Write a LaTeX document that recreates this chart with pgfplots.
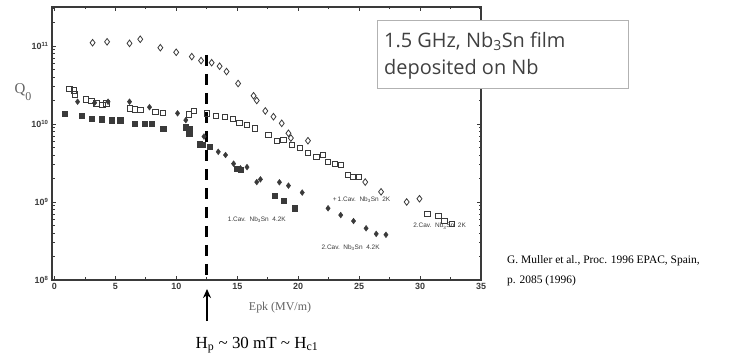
\documentclass[border=0pt]{standalone}
\usepackage{pgfplots}
\pgfplotsset{compat=1.18}
\usetikzlibrary{arrows.meta}
\usepackage{fontspec}
\setmainfont{Liberation Serif}
\newfontfamily\boxfont{Open Sans}
\newfontfamily\sansb{Liberation Sans}
\definecolor{scan}{HTML}{3A3A3A}

\begin{document}
\begin{tikzpicture}[x=1bp,y=1bp]
\useasboundingbox (0,0) rectangle (734,362);
\begin{axis}[
  scale only axis, width=429bp, height=273bp,
  at={(52bp,82bp)}, anchor=south west,
  ymode=log, xmin=-0.2, xmax=35, ymin=1e8, ymax=3.16e11,
  xtick={0,5,...,35}, minor x tick num=1,
  ytick={1e8,1e9,1e10,1e11},
  minor ytick={2e8,3e8,4e8,5e8,6e8,7e8,8e8,9e8,2e9,3e9,4e9,5e9,6e9,7e9,8e9,9e9,2e10,3e10,4e10,5e10,6e10,7e10,8e10,9e10,2e11,3e11},
  yticklabels={10\textsuperscript{8},10\textsuperscript{9},10\textsuperscript{10},10\textsuperscript{11}},
  /pgf/number format/assume math mode=true,
  tick align=inside,
  axis line style={scan, line width=1.1bp},
  major tick length=4bp, minor tick length=2.5bp,
  every tick/.style={scan, line width=0.8bp},
  tick label style={font=\sansb\bfseries\fontsize{9}{10}\selectfont, text=scan},
  clip=false,
]
% 1.Cav Nb3Sn 2K (open diamonds)
\addplot[only marks, mark=diamond, mark size=3.3bp, scan, line width=0.8bp] coordinates {
(3.13,1.1e11) (4.32,1.13e11) (6.16,1.08e11) (7.04,1.22e11) (8.69,9.5e10)
(9.99,8.3e10) (11.27,7.3e10) (12.03,6.5e10) (12.9,6.1e10) (13.55,5.5e10)
(14.12,4.7e10) (15.07,3.3e10) (16.34,2.3e10) (16.6,2.0e10) (17.3,1.47e10)
(17.97,1.24e10) (18.65,1.02e10) (19.2,7.6e9) (19.4,6.6e9) (20.8,6.1e9)
(25.5,1.8e9) (26.8,1.35e9) (28.9,1.0e9) (29.95,1.1e9)
};
% 2.Cav Nb3Sn 2K (open squares)
\addplot[only marks, mark=square, mark size=2.6bp, scan, line width=0.8bp] coordinates {
(1.22,2.8e10) (1.6,2.7e10) (1.69,2.4e10) (2.58,2.07e10) (3.04,1.97e10)
(3.45,1.84e10) (3.94,1.75e10) (4.27,1.84e10) (6.16,1.58e10) (6.57,1.54e10)
(7.06,1.51e10) (8.28,1.44e10) (8.88,1.4e10) (11.0,1.33e10) (11.46,1.47e10)
(12.54,1.37e10) (13.27,1.28e10) (13.98,1.22e10) (14.63,1.15e10) (15.18,1.04e10)
(15.8,9.7e9) (16.48,8.8e9) (17.56,7.2e9) (18.24,6.1e9) (18.79,6.2e9)
(19.46,5.4e9) (20.15,4.9e9) (20.82,4.3e9) (21.5,3.8e9) (22.05,4.0e9)
(22.45,3.3e9) (23.0,3.1e9) (23.53,3.0e9) (24.08,2.2e9) (24.5,2.1e9)
(25.0,2.1e9) (30.6,7.1e8) (31.5,6.6e8) (32.0,5.7e8) (32.6,5.2e8)
};
% 1.Cav Nb3Sn 4.2K (filled squares)
\addplot[only marks, mark=square*, mark size=2.6bp, scan] coordinates {
(0.87,1.37e10) (2.23,1.27e10) (3.04,1.18e10) (3.86,1.15e10) (4.67,1.12e10)
(5.4,1.12e10) (6.57,1.02e10) (7.39,1.0e10) (8.01,1.0e10) (8.93,8.8e9)
(10.78,9.1e9) (11.05,8.8e9) (11.05,7.6e9) (11.95,5.5e9) (12.74,5.1e9)
(12.14,5.4e9) (14.98,2.7e9) (15.3,2.6e9) (18.06,1.2e9) (18.79,1.03e9)
(19.74,8.3e8)
};
% 2.Cav Nb3Sn 4.2K (filled diamonds)
\addplot[only marks, mark=diamond*, mark size=2.9bp, scan] coordinates {
(1.9,1.93e10) (3.3,1.87e10) (4.4,1.93e10) (6.16,1.93e10) (7.8,1.64e10)
(10.1,1.37e10) (10.78,1.12e10) (12.27,6.9e9) (13.44,4.4e9) (14.04,4.0e9)
(14.7,3.1e9) (15.26,2.7e9) (15.8,2.8e9) (16.6,1.8e9) (16.9,1.95e9)
(18.46,1.79e9) (19.2,1.62e9) (20.33,1.32e9) (22.45,8.3e8) (23.49,6.8e8)
(24.54,5.7e8) (25.57,4.6e8) (26.4,3.9e8) (27.2,3.8e8)
};
\draw[black, line width=3bp, dash pattern=on 11bp off 8bp] (axis cs:12.5,7.7e10) -- (axis cs:12.5,1e8);
\node[font=\sansb\fontsize{6.5}{7}\selectfont, text=scan] at (axis cs:25.2,1.06e9) {+\,1.Cav.\ \ Nb\textsubscript{3}Sn\ \ 2K};
\node[font=\sansb\fontsize{6.5}{7}\selectfont, text=scan] at (axis cs:16.6,6.0e8) {1.Cav.\ \ Nb\textsubscript{3}Sn\ \ 4.2K};
\node[font=\sansb\fontsize{6.5}{7}\selectfont, text=scan] at (axis cs:24.3,2.6e8) {2.Cav.\ \ Nb\textsubscript{3}Sn\ \ 4.2K};
\node[font=\sansb\fontsize{6.5}{7}\selectfont, text=scan] at (axis cs:31.6,4.9e8) {2.Cav.\ \ Nb\textsubscript{3}Sn\ \ 2K};
\end{axis}
% axis labels
\node[font=\fontsize{15}{16}\selectfont, text=scan!80] at (23,270) {Q\raisebox{-7bp}{\fontsize{12}{12}\selectfont 0}};
\node[font=\fontsize{12}{13}\selectfont, text=scan!80] at (280,54) {Epk (MV/m)};
% arrow and annotation
\draw[-{Stealth[length=9bp,width=8bp]}, line width=2bp] (207,41) -- (207,73);
\node[font=\fontsize{17}{20}\selectfont] at (257,17) {H\textsubscript{p} \textasciitilde{} 30 mT \textasciitilde{} H\textsubscript{c1}};
% text box
\draw[gray!60, line width=0.8bp, fill=white] (377,274) rectangle (628,342);
\node[anchor=west, font=\boxfont\fontsize{20}{24}\selectfont, text=black!75, inner sep=0] at (384,321) {1.5 GHz, Nb\textsubscript{3}Sn film};
\node[anchor=west, font=\boxfont\fontsize{20}{24}\selectfont, text=black!75, inner sep=0] at (384,293) {deposited on Nb};
% citation
\node[anchor=base west, font=\fontsize{11.5}{13}\selectfont, inner sep=0] at (507,99) {G. Muller et al., Proc. 1996 EPAC, Spain,};
\node[anchor=base west, font=\fontsize{11.5}{13}\selectfont, inner sep=0] at (507,79) {p. 2085 (1996)};
\end{tikzpicture}
\end{document}
